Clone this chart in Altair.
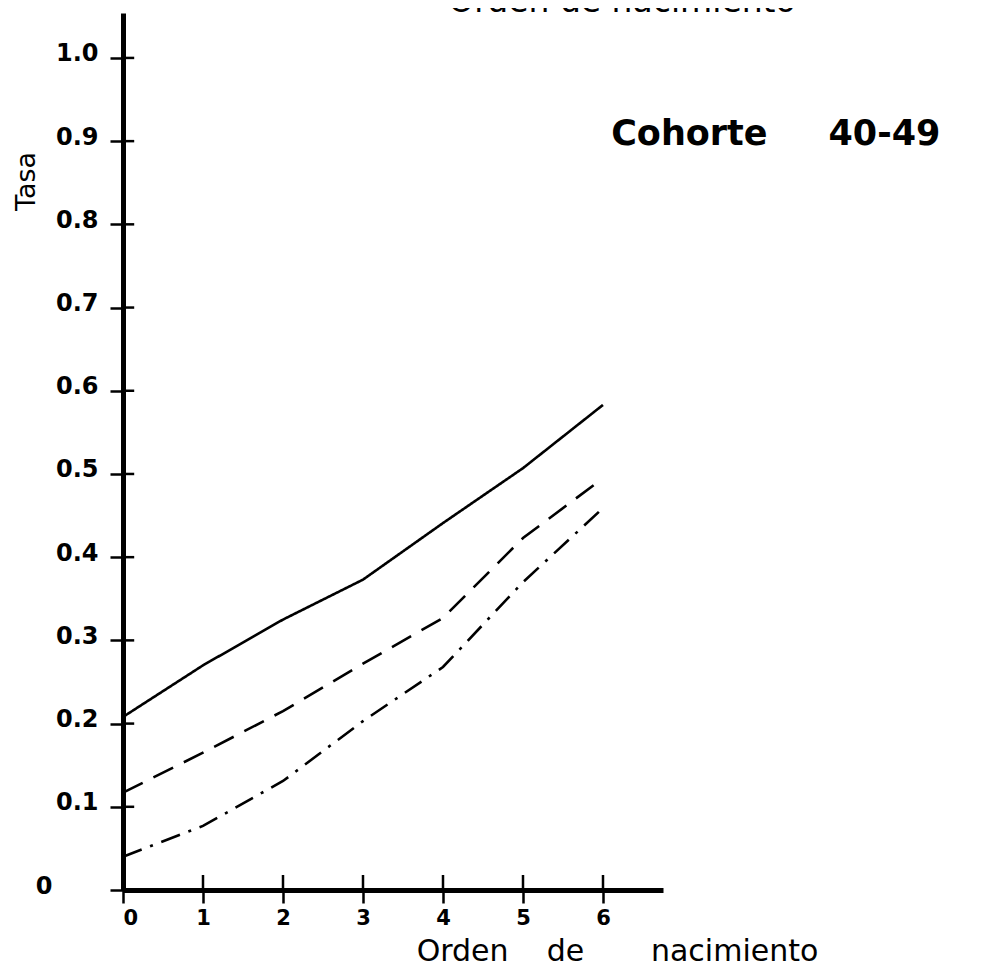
import altair as alt
import pandas as pd

# ---- data ----
orden = [0, 1, 2, 3, 4, 5, 6]
serie_solida = [0.208, 0.270, 0.325, 0.373, 0.441, 0.507, 0.583]
serie_guiones = [0.117, 0.165, 0.215, 0.272, 0.327, 0.423, 0.495]
serie_punto_guion = [0.040, 0.077, 0.131, 0.203, 0.268, 0.370, 0.459]
series_names = ["solida", "guiones", "punto-guion"]

y_ticks = [0, 0.1, 0.2, 0.3, 0.4, 0.5, 0.6, 0.7, 0.8, 0.9, 1.0]
x_ticks = [0, 1, 2, 3, 4, 5, 6]

titulo_sup = "Orden de nacimiento"
titulo_x = "Orden\u00a0\u00a0\u00a0\u00a0de\u00a0\u00a0\u00a0\u00a0\u00a0\u00a0\u00a0nacimiento"
titulo_y = "Tasa"
anotacion = "Cohorte\u00a0\u00a0\u00a0\u00a0\u00a040-49"

rows = []
for name, vals in zip(series_names, [serie_solida, serie_guiones, serie_punto_guion]):
    for o, v in zip(orden, vals):
        rows.append({"orden": o, "tasa": v, "serie": name})
df = pd.DataFrame(rows)

FONT = "DejaVu Sans"
W, H = 540, 877
XMAX, YMAX = 6.75, 1.054

xscale = alt.Scale(domain=[0, XMAX], nice=False, zero=False)
yscale = alt.Scale(domain=[0, YMAX], nice=False, zero=False)

xaxis = alt.Axis(
    values=x_ticks, grid=False, domainWidth=5, domainColor="black",
    tickColor="black", tickWidth=2.5, tickSize=13, labelPadding=4,
    labelFont=FONT, labelFontSize=21, labelFontWeight="bold", labelColor="black",
    labelAngle=0, format="d",
    title=titulo_x, titleFont=FONT, titleFontSize=30, titleFontWeight="normal",
    titleColor="black", titleX=494, titleY=70, titleAlign="center",
    titleBaseline="alphabetic",
)
yaxis = alt.Axis(
    values=y_ticks, grid=False, domainWidth=5, domainColor="black",
    tickColor="black", tickWidth=2.5, tickSize=13,
    labelPadding=alt.condition("datum.value == 0", alt.value(58), alt.value(12)),
    labelFont=FONT, labelFontSize=24, labelFontWeight="bold", labelColor="black",
    labelOffset=-4,
    labelExpr="datum.value == 0 ? '0' : format(datum.value, '.1f')",
    title=titulo_y, titleFont=FONT, titleFontSize=27, titleFontWeight="normal",
    titleColor="black", titleX=-89, titleY=168, titleAngle=270,
    titleAlign="center", titleBaseline="alphabetic",
)

lines = alt.Chart(df).mark_line(strokeWidth=2.6, color="black").encode(
    x=alt.X("orden:Q", scale=xscale, axis=xaxis),
    y=alt.Y("tasa:Q", scale=yscale, axis=yaxis),
    strokeDash=alt.StrokeDash(
        "serie:N",
        scale=alt.Scale(domain=series_names, range=[[1, 0], [22, 12], [20, 9, 3, 9]]),
        legend=None,
    ),
    detail="serie:N",
)

# inner halves of the crossing tick marks
xt = pd.DataFrame({"v": x_ticks})
yt = pd.DataFrame({"v": y_ticks})
xinner = alt.Chart(xt).mark_rule(color="black", strokeWidth=2.5).encode(
    x=alt.X("v:Q", scale=xscale),
    y=alt.datum(0, scale=yscale),
    y2=alt.datum(0.018),
)
yinner = alt.Chart(yt).mark_rule(color="black", strokeWidth=2.5).encode(
    y=alt.Y("v:Q", scale=yscale),
    x=alt.datum(0, scale=xscale),
    x2=alt.datum(0.14),
)

ann = alt.Chart(pd.DataFrame({"t": [anotacion], "x": [8.16], "y": [0.908]})).mark_text(
    font=FONT, fontSize=35, fontWeight="bold", color="black",
    align="center", baseline="middle",
).encode(x=alt.X("x:Q", scale=xscale), y=alt.Y("y:Q", scale=yscale), text="t:N")

top = alt.Chart(pd.DataFrame({"t": [titulo_sup]})).mark_text(
    font=FONT, fontSize=33, color="black", align="center", baseline="alphabetic",
).encode(x=alt.value(499), y=alt.value(-1), text="t:N")

chart = alt.layer(lines, xinner, yinner, ann, top).properties(
    width=W, height=H,
    autosize=alt.AutoSizeParams(type="none"),
    padding={"left": 115, "top": 5, "right": 300, "bottom": 78},
).configure(background="white").configure_view(strokeWidth=0, stroke=None)

chart.save("out.html", embed_options={"renderer": "svg", "actions": False})
